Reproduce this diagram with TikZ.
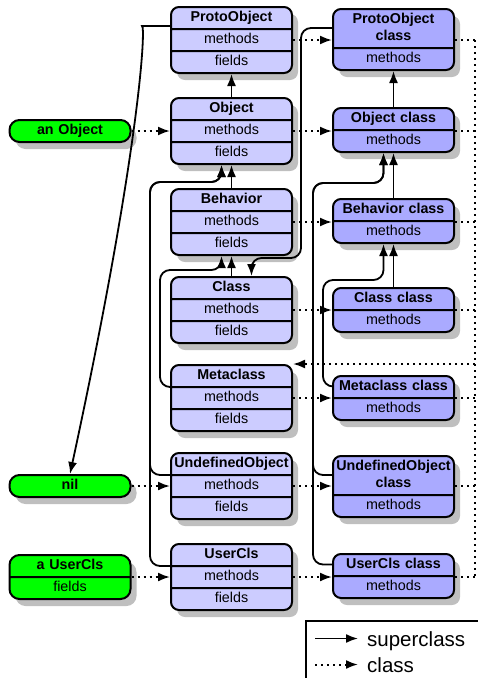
\documentclass[tikz,border=0pt]{standalone}
\usepackage{fontspec}
\setmainfont{Liberation Sans}
\usepackage{tikz}
\usetikzlibrary{shapes.multipart,shadows,arrows.meta,calc}
\definecolor{classblue}{RGB}{204,204,255}
\definecolor{metablue}{RGB}{170,170,255}
\definecolor{instgreen}{RGB}{0,255,0}
\tikzset{
    class-box/.style = {draw, line width=2pt, rounded corners=8pt, rectangle split, rectangle split parts=3, rectangle split draw splits, fill=classblue, text width=117pt, align=center, inner xsep=2pt, inner ysep=1.5pt, anchor=north, font=\fontsize{14.3}{17}\selectfont, drop shadow={shadow xshift=6pt, shadow yshift=-7pt, fill=black!25, opacity=1}},
    meta-box/.style = {class-box, rectangle split parts=2, fill=metablue},
    inst-box/.style = {class-box, rectangle split parts=1, fill=instgreen, rounded corners=10pt, anchor=center},
    super-arrow/.style = {line width=1.8pt, rounded corners=10pt, -{Latex[length=12pt, width=9pt]}},
    class-arrow/.style = {line width=2pt, dash pattern=on 2pt off 4pt, -{Latex[length=12pt, width=9pt]}},
    class-line/.style = {line width=2pt, dash pattern=on 2pt off 4pt},
    legend-text/.style = {anchor=base west, inner sep=0pt, font=\fontsize{20.5}{24}\selectfont},
}

\begin{document}
\begin{tikzpicture}[x=1pt, y=-1pt]
\useasboundingbox (0,0) rectangle (478,678);

\node[class-box] (po) at (231.5,6) {\strut\textbf{ProtoObject}\nodepart{two}\strut methods\nodepart{three}\strut fields};
\node[class-box] (obj) at (231.5,97) {\strut\textbf{Object}\nodepart{two}\strut methods\nodepart{three}\strut fields};
\node[class-box] (beh) at (231.5,188) {\strut\textbf{Behavior}\nodepart{two}\strut methods\nodepart{three}\strut fields};
\node[class-box] (cls) at (231.5,276) {\strut\textbf{Class}\nodepart{two}\strut methods\nodepart{three}\strut fields};
\node[class-box] (meta) at (231.5,364) {\strut\textbf{Metaclass}\nodepart{two}\strut methods\nodepart{three}\strut fields};
\node[class-box] (undef) at (231.5,452) {\strut\textbf{UndefinedObject}\nodepart{two}\strut methods\nodepart{three}\strut fields};
\node[class-box] (ucls) at (231.5,543) {\strut\textbf{UserCls}\nodepart{two}\strut methods\nodepart{three}\strut fields};

\node[meta-box] (poc) at (393.5,8) {\strut\textbf{ProtoObject}\\\textbf{class}\strut\nodepart{two}\strut methods};
\node[meta-box] (objc) at (393.5,107) {\strut\textbf{Object class}\nodepart{two}\strut methods};
\node[meta-box] (behc) at (393.5,198) {\strut\textbf{Behavior class}\nodepart{two}\strut methods};
\node[meta-box] (clsc) at (393.5,287) {\strut\textbf{Class class}\nodepart{two}\strut methods};
\node[meta-box] (metac) at (393.5,375) {\strut\textbf{Metaclass class}\nodepart{two}\strut methods};
\node[meta-box] (undefc) at (393.5,455) {\strut\textbf{UndefinedObject}\\\textbf{class}\strut\nodepart{two}\strut methods};
\node[meta-box] (uclsc) at (393.5,553) {\strut\textbf{UserCls class}\nodepart{two}\strut methods};

\foreach \n in {po,obj,beh,cls,meta,undef,ucls}
    \coordinate (\n-m) at ($(\n.text split east)!.5!(\n.two split east)$);
\coordinate (left-x) at (70,0);
\coordinate (meta-bus) at (475,0);

\node[inst-box] (anobj) at (obj-m -| left-x) {\strut\textbf{an Object}};
\node[inst-box] (nil) at (undef-m -| left-x) {\strut\textbf{nil}};
\node[inst-box, rectangle split parts=2, anchor=text split] (auc) at (ucls-m -| left-x) {\strut\textbf{a UserCls}\nodepart{two}\strut fields};

\foreach \a/\b in {po/poc, obj/objc, beh/behc, cls/clsc, meta/metac, undef/undefc, ucls/uclsc} {
    \draw[class-arrow] (\a-m) -- (\a-m -| \b.west);
    \draw[class-line] (\a-m -| \b.east) -- (\a-m -| meta-bus);
}
\draw[class-line] (po-m -| meta-bus) -- (ucls-m -| meta-bus);
\draw[class-arrow] (meta.north east -| meta-bus) -- (meta.north east);

\draw[class-arrow] (anobj.east) -- (anobj.east -| obj.west);
\draw[class-arrow] (nil.east) -- (nil.east -| undef.west);
\draw[class-arrow] (auc.text split east) -- (auc.text split east -| ucls.west);

\draw[super-arrow] (obj.north) -- (po.south);
\draw[super-arrow] (beh.north) -- (obj.south);
\draw[super-arrow] (cls.north) -- (beh.south);
\draw[super-arrow] (undef.text split west) -| (150,182) -| ([xshift=-10pt]obj.south);
\draw[super-arrow] (ucls.text split west) -| (150,182) -| ([xshift=-10pt]obj.south);
\draw[super-arrow] (meta.text split west) -| (160,270) -| ([xshift=-10pt]beh.south);
\draw[super-arrow] ([yshift=-20pt]po.north west) -- ++(-18,0) .. controls +(-6,0) and (140,150) .. (nil.north);

\draw[super-arrow] (objc.north) -- (poc.south);
\draw[super-arrow] (behc.north) -- (objc.south);
\draw[super-arrow] (clsc.north) -- (behc.south);
\draw[super-arrow] ($(undefc.north west)!.5!(undefc.text split west)$) -| (313,183) -| ([xshift=-10pt]objc.south);
\draw[super-arrow] ($(uclsc.north west)!.5!(uclsc.text split west)$) -| (313,183) -| ([xshift=-10pt]objc.south);
\draw[super-arrow] ($(metac.north west)!.5!(metac.text split west)$) -| (323,280) -| ([xshift=-10pt]behc.south);
\draw[super-arrow] ($(poc.north west)!.5!(poc.text split west)$) -| (301,258) -| ([xshift=20pt]cls.north);

\node[draw, line width=1.5pt, anchor=north west, minimum width=200pt, minimum height=90pt] (legend) at (305,620) {};
\node[legend-text] (sup-label) at (367,646) {superclass};
\node[legend-text] (cls-label) at (367,672) {class};
\draw[super-arrow] ([xshift=-52pt, yshift=7.5pt]sup-label.base west) -- ([xshift=-9pt, yshift=7.5pt]sup-label.base west);
\draw[class-arrow] ([xshift=-52pt, yshift=7.5pt]cls-label.base west) -- ([xshift=-9pt, yshift=7.5pt]cls-label.base west);
\end{tikzpicture}
\end{document}
